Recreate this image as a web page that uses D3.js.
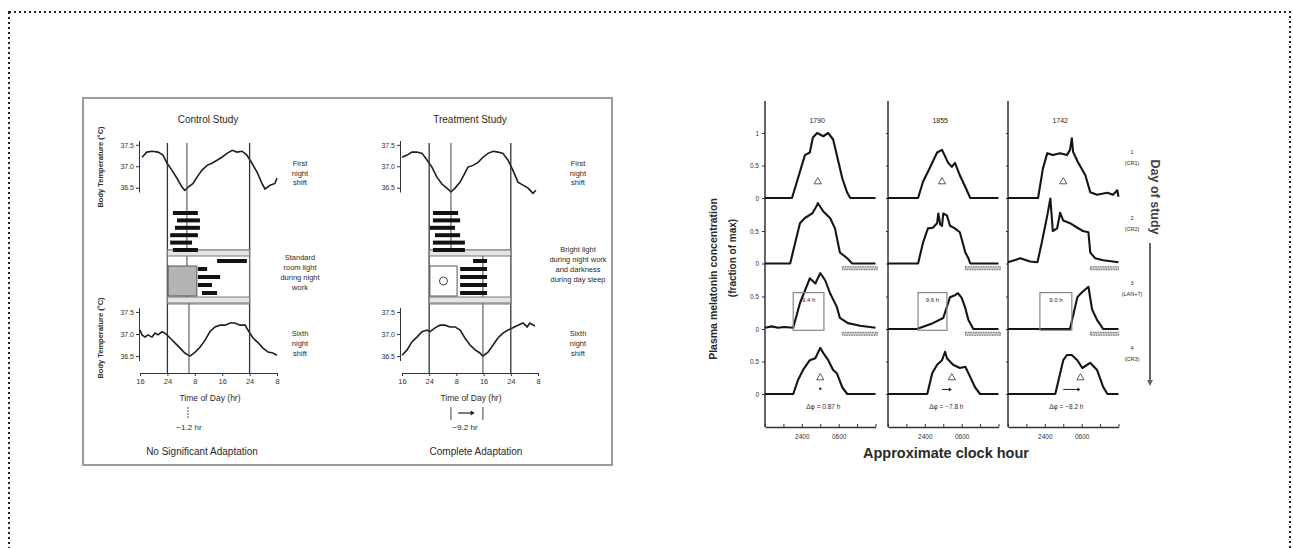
<!DOCTYPE html>
<html>
<head>
<meta charset="utf-8">
<script src="https://cdn.jsdelivr.net/npm/d3@7"></script>
<style>
body { margin: 0; background: #fff; }
svg { display: block; font-family: "Liberation Sans", Arial, sans-serif; }
</style>
</head>
<body>
<script>
// ---- left figure: body temperature (hour 16 .. 56 = 1600 day 1 .. 0800 day 3)
var studyHours = [16, 24, 32, 40, 48, 56];
var studyHourLabels = ["16", "24", "8", "16", "24", "8"];
var tempTicks = [36.5, 37.0, 37.5];

var controlFirstShift = [[16.6, 37.21], [18.0, 37.33], [19.5, 37.35], [21.3, 37.33], [22.7, 37.26], [23.9, 37.07],
  [25.3, 36.91], [26.8, 36.72], [28.3, 36.51], [29.1, 36.44], [30.0, 36.51], [31.5, 36.6], [32.6, 36.74],
  [34.1, 36.91], [35.6, 37.02], [37.0, 37.07], [38.5, 37.14], [39.9, 37.21], [41.4, 37.3], [42.9, 37.37],
  [44.3, 37.33], [45.8, 37.35], [47.2, 37.26], [48.7, 37.07], [50.2, 36.86], [51.6, 36.6], [52.5, 36.47],
  [54.0, 36.56], [55.4, 36.6], [56.0, 36.72]];
var controlSixthShift = [[16.0, 37.09], [16.6, 36.98], [17.5, 36.93], [18.3, 36.98], [19.5, 36.93], [20.4, 37.02],
  [21.3, 36.98], [22.4, 37.05], [23.3, 37.02], [24.8, 36.91], [26.2, 36.8], [27.7, 36.68], [29.1, 36.57],
  [30.6, 36.5], [32.1, 36.59], [33.5, 36.7], [35.0, 36.86], [36.4, 37.05], [37.9, 37.16], [39.4, 37.2],
  [40.8, 37.2], [42.3, 37.25], [43.7, 37.25], [45.2, 37.2], [46.7, 37.2], [47.5, 37.09], [49.0, 36.91],
  [50.5, 36.8], [51.9, 36.68], [53.4, 36.59], [54.8, 36.57], [56.0, 36.52]];
var treatFirstShift = [[16.0, 37.21], [17.5, 37.26], [18.9, 37.33], [20.4, 37.33], [21.9, 37.3], [23.4, 37.14],
  [24.8, 36.98], [26.3, 36.74], [27.8, 36.58], [29.2, 36.49], [30.4, 36.4], [31.6, 36.49], [33.1, 36.63],
  [34.5, 36.84], [35.4, 36.98], [36.9, 37.02], [38.4, 37.09], [39.8, 37.21], [41.3, 37.3], [42.8, 37.35],
  [44.2, 37.33], [45.7, 37.3], [47.2, 37.14], [48.6, 36.91], [50.1, 36.63], [51.6, 36.56], [53.1, 36.49],
  [54.5, 36.37], [55.4, 36.44]];
var treatSixthShift = [[16.0, 36.52], [17.5, 36.64], [18.9, 36.82], [20.4, 36.93], [21.9, 37.05], [23.4, 37.09],
  [24.2, 37.05], [25.7, 37.14], [27.2, 37.2], [28.6, 37.2], [30.1, 37.16], [31.6, 37.16], [33.1, 37.09],
  [34.5, 36.91], [36.0, 36.75], [37.5, 36.64], [38.9, 36.57], [39.8, 36.5], [41.3, 36.59], [42.8, 36.75],
  [44.2, 36.91], [45.7, 37.02], [47.2, 37.09], [48.6, 37.14], [50.1, 37.2], [51.6, 37.25], [52.8, 37.16],
  [53.6, 37.25], [55.1, 37.18]];
var controlMinHour = [29.7, 30.3];
var treatMinHour = [30.4, 39.8];

// sleep episodes (start hour, end hour)
var controlSleepBefore = [[25.6, 32.9], [26.8, 33.5], [26.2, 33.5], [24.8, 32.9], [24.8, 31.2], [25.6, 32.9]];
var controlSleepAfter = [[32.9, 35.6], [32.9, 39.4], [32.9, 37.0], [34.1, 38.5]];
var controlWorkBar = [38.5, 47.2];
var treatSleepBefore = [[25.1, 32.5], [25.1, 33.1], [24.2, 31.6], [25.7, 33.1], [25.1, 34.5], [25.1, 34.5]];
var treatSleepAfter = [[33.1, 41.0], [33.1, 41.0], [33.1, 41.0], [33.1, 41.0]];
var treatWorkBar = [36.9, 41.0];

// ---- right figure: plasma melatonin (clock hour 18 .. 36)
var subjects = ["1790", "1855", "1742"];
var dayNumbers = ["1", "2", "3", "4"];
var dayConditions = ["(CR1)", "(CR2)", "(LAN+7)", "(CR3)"];
var clockTicks = [18, 21, 24, 27, 30, 33, 36];
var clockLabelHours = [24, 30];
var clockLabels = ["2400", "0600"];

var mel1790 = [
  [[18, 0], [22.4, 0], [23.2, 0.25], [24.5, 0.66], [25.3, 0.7], [25.8, 0.93], [26.5, 1.0], [27.5, 0.95], [28.3, 1.0], [29.1, 0.9], [29.7, 0.66], [30.6, 0.3], [31.4, 0.08], [31.9, 0], [36, 0]],
  [[18, 0], [22.1, 0], [23.2, 0.43], [23.7, 0.62], [24.5, 0.7], [25.7, 0.77], [26.5, 0.9], [26.6, 0.93], [27.5, 0.8], [28.6, 0.7], [29.4, 0.54], [30.2, 0.17], [31.4, 0.08], [32.2, 0], [36, 0]],
  [[18, 0.02], [19.1, 0.04], [20.1, 0.02], [21.1, 0.03], [22.6, 0.02], [23.7, 0.4], [25.3, 0.78], [26.2, 0.7], [27.0, 0.86], [27.8, 0.75], [28.6, 0.55], [29.7, 0.34], [30.2, 0.17], [31.5, 0.09], [33.5, 0.05], [36, 0.02]],
  [[18, 0], [22.6, 0], [23.4, 0.22], [24.2, 0.37], [25.3, 0.52], [26.2, 0.55], [27.0, 0.71], [27.5, 0.63], [28.3, 0.52], [29.1, 0.37], [29.7, 0.32], [30.6, 0.1], [31.4, 0], [36, 0]]
];
var mel1855 = [
  [[18, 0], [22.9, 0], [23.7, 0.25], [24.9, 0.48], [26.0, 0.7], [26.8, 0.74], [27.8, 0.54], [28.4, 0.48], [28.9, 0.54], [29.7, 0.35], [30.6, 0.17], [31.4, 0], [36, 0]],
  [[18, 0], [22.9, 0], [23.7, 0.32], [24.5, 0.54], [25.3, 0.55], [26.0, 0.62], [26.2, 0.77], [26.5, 0.6], [26.8, 0.58], [27.0, 0.77], [27.6, 0.74], [28.1, 0.58], [28.9, 0.54], [29.7, 0.48], [30.6, 0.17], [31.1, 0.08], [31.4, 0], [36, 0]],
  [[18, 0], [22.7, 0], [25.3, 0.09], [27.0, 0.17], [27.8, 0.4], [28.1, 0.49], [28.9, 0.52], [29.4, 0.55], [30.0, 0.48], [30.6, 0.32], [31.1, 0.14], [31.9, 0], [36, 0]],
  [[18, 0], [24.4, 0], [25.2, 0.32], [26.0, 0.45], [26.8, 0.52], [27.3, 0.65], [27.6, 0.55], [28.6, 0.45], [29.7, 0.4], [30.6, 0.42], [31.4, 0.26], [32.2, 0.1], [33.0, 0], [36, 0]]
];
var mel1742 = [
  [[18, 0], [22.9, 0], [23.7, 0.46], [24.4, 0.69], [25.3, 0.66], [26.5, 0.69], [27.6, 0.66], [28.1, 0.74], [28.4, 0.92], [28.6, 0.71], [29.4, 0.55], [30.6, 0.35], [31.4, 0.09], [32.5, 0.05], [34.2, 0.08], [35.1, 0.05], [35.8, 0.12], [36, 0.02]],
  [[18, 0.02], [20.0, 0.08], [21.6, 0.03], [22.8, 0.02], [23.5, 0.32], [24.4, 0.74], [24.9, 1.0], [25.3, 0.5], [26.0, 0.54], [26.5, 0.78], [27.0, 0.66], [28.1, 0.62], [29.3, 0.55], [30.2, 0.5], [31.1, 0.48], [31.4, 0.17], [32.2, 0.08], [33.5, 0.05], [36, 0.02]],
  [[18, 0], [28.1, 0], [29.3, 0.49], [30.1, 0.57], [31.1, 0.65], [31.7, 0.3], [32.5, 0.14], [33.5, 0], [36, 0]],
  [[18, 0], [25.7, 0], [27.0, 0.52], [27.6, 0.6], [28.4, 0.6], [29.3, 0.52], [30.1, 0.4], [30.9, 0.45], [31.4, 0.48], [32.5, 0.37], [33.5, 0.11], [34.2, 0], [36, 0]]
];
var melCurves = [mel1790, mel1855, mel1742];
var phaseCR1 = [26.6, 26.8, 27.0];
var phaseCR3 = [27.0, 28.4, 29.8];
var phaseShiftText = ["Δφ = 0.87 h", "Δφ = −7.8 h", "Δφ = −8.2 h"];
var lightBox = [[22.6, 27.6], [22.9, 27.6], [23.2, 28.4]];
var lightBoxText = ["9.4 h", "9.6 h", "9.0 h"];
var sleepBar = [[30.6, 36.3], [30.6, 36.3], [31.4, 36.0]];

var svg = d3.select("body").append("svg").
attr("width", 1293).
attr("height", 548);

// dotted page frame
svg.append("rect").
attr("x", 9).attr("y", 12).
attr("width", 1281).attr("height", 600).
attr("fill", "none").
attr("stroke", "#222").
attr("stroke-width", 2).
attr("stroke-dasharray", "2,3");

// scanned figure frame
svg.append("rect").
attr("x", 83).attr("y", 98).
attr("width", 529).attr("height", 367).
attr("fill", "none").
attr("stroke", "#9c9c9c").
attr("stroke-width", 2);

function txt(g, x, y, s, size, opt) {
  opt = opt || {};
  return g.append("text").
  attr("x", x).attr("y", y).
  attr("text-anchor", opt.anchor || "middle").
  attr("font-size", size).
  attr("font-weight", opt.bold ? "bold" : "normal").
  attr("fill", opt.fill || "#2a2a2a").
  text(s);
}

function styleAxis(a, size) {
  a.selectAll("path, line").attr("stroke", "#333");
  a.selectAll("text").attr("font-size", size).attr("fill", "#333").
  attr("font-family", "Liberation Sans, Arial, sans-serif");
}

function drawStudy(s) {
  var g = svg.append("g");
  var x = d3.scaleLinear().domain([16, 56]).range(s.xr);
  var yTop = d3.scaleLinear().domain([36.4, 37.6]).range([192, 140.5]);
  var yBot = d3.scaleLinear().domain([36.4, 37.6]).range([360.5, 307.5]);

  txt(g, s.titleX, 123, s.title, 10);

  [yTop, yBot].forEach(function (y, i) {
    var a = g.append("g").
    attr("transform", "translate(" + s.axisX + ",0)").
    call(d3.axisLeft(y).tickValues(tempTicks).tickSize(3).tickSizeOuter(0).tickPadding(2).tickFormat(d3.format(".1f")));
    styleAxis(a, 7);
    var curve = i == 0 ? s.first : s.sixth;
    g.append("path").
    datum(curve).
    attr("fill", "none").
    attr("stroke", "#1e1e1e").
    attr("stroke-width", 1.6).
    attr("d", d3.line().x(function (d) {return x(d[0]);}).y(function (d) {return y(d[1]);}));
  });

  var xa = g.append("g").
  attr("transform", "translate(0,373)").
  call(d3.axisBottom(x).tickValues(studyHours).tickSize(3).tickSizeOuter(0).tickPadding(3).
  tickFormat(function (d, i) {return studyHourLabels[i];}));
  styleAxis(xa, 7.5);

  // shift boundaries (midnight) and temperature minima
  [24, 48].forEach(function (h) {
    g.append("line").attr("x1", x(h)).attr("x2", x(h)).attr("y1", 143).attr("y2", 373).
    attr("stroke", "#333").attr("stroke-width", 1.3);
  });
  g.append("line").attr("x1", x(s.mins[0])).attr("x2", x(s.mins[0])).attr("y1", 143).attr("y2", s.minCut).
  attr("stroke", "#444").attr("stroke-width", 1);
  g.append("line").attr("x1", x(s.mins[1])).attr("x2", x(s.mins[1])).attr("y1", s.minCut).attr("y2", 373).
  attr("stroke", "#444").attr("stroke-width", 1);

  // schedule block
  g.append("rect").attr("x", x(24)).attr("y", 250).attr("width", x(48) - x(24)).attr("height", 54).
  attr("fill", "none").attr("stroke", "#777").attr("stroke-width", 1);
  g.append("rect").attr("x", x(24)).attr("y", 250).attr("width", x(48) - x(24)).attr("height", 6).
  attr("fill", "#e4e4e4").attr("stroke", "#777").attr("stroke-width", 1);
  g.append("rect").attr("x", x(24)).attr("y", 297).attr("width", x(48) - x(24)).attr("height", 6).
  attr("fill", "#e4e4e4").attr("stroke", "#777").attr("stroke-width", 1);

  g.selectAll(".sb").data(s.before).enter().append("rect").
  attr("x", function (d) {return x(d[0]);}).
  attr("y", function (d, i) {return 211 + i * 7.4;}).
  attr("width", function (d) {return x(d[1]) - x(d[0]);}).
  attr("height", 4).
  attr("fill", "#111");

  g.selectAll(".sa").data(s.after).enter().append("rect").
  attr("x", function (d) {return x(d[0]);}).
  attr("y", function (d, i) {return 267 + i * 8;}).
  attr("width", function (d) {return x(d[1]) - x(d[0]);}).
  attr("height", 4).
  attr("fill", "#111");

  g.append("rect").attr("x", x(s.work[0])).attr("y", 259).attr("width", x(s.work[1]) - x(s.work[0])).attr("height", 4).
  attr("fill", "#111");

  g.append("rect").attr("x", x(24.2)).attr("y", 266).attr("width", x(s.boxEnd) - x(24.2)).attr("height", 30).
  attr("fill", s.stipple ? "#b4b4b4" : "#fff").attr("stroke", "#555").attr("stroke-width", 1);
  if (!s.stipple) {
    g.append("circle").attr("cx", (x(24.2) + x(s.boxEnd)) / 2).attr("cy", 281).attr("r", 4).
    attr("fill", "none").attr("stroke", "#444").attr("stroke-width", 1);
  }

  // right-hand notes
  s.firstText.forEach(function (t, i) {txt(g, s.noteX, 166 + i * 9.5, t, 7.5);});
  s.lightText.forEach(function (t, i) {txt(g, s.noteX, s.lightY + i * 10, t, 7.5);});
  s.sixthText.forEach(function (t, i) {txt(g, s.noteX, 336 + i * 10, t, 7.5);});

  txt(g, s.axisTitleX, 401, "Time of Day (hr)", 8.5);
  txt(g, s.shiftX, 430, s.shift, 8);
  txt(g, s.bottomX, 455, s.bottom, 10);

  if (s.ylabel) {
    [167, 338].forEach(function (cy) {
      txt(g, 0, 0, "Body Temperature (°C)", 7.5, {bold: true}).
      attr("transform", "translate(103," + cy + ") rotate(-90)");
    });
  }
  return x;
}

var xc = drawStudy({
  title: "Control Study", titleX: 208, xr: [140, 277], axisX: 139,
  first: controlFirstShift, sixth: controlSixthShift, mins: controlMinHour, minCut: 297,
  before: controlSleepBefore, after: controlSleepAfter, work: controlWorkBar, boxEnd: 32.6, stipple: true,
  noteX: 300, firstText: ["First", "night", "shift"],
  lightText: ["Standard", "room light", "during night", "work"], lightY: 260,
  sixthText: ["Sixth", "night", "shift"],
  axisTitleX: 210, shiftX: 189, shift: "−1.2 hr", bottomX: 202, bottom: "No Significant Adaptation", ylabel: true
});
// marker of phase shift
svg.append("line").attr("x1", xc(30)).attr("x2", xc(30)).attr("y1", 407).attr("y2", 419).
attr("stroke", "#555").attr("stroke-width", 1).attr("stroke-dasharray", "2,1");

var xt = drawStudy({
  title: "Treatment Study", titleX: 470, xr: [402, 538], axisX: 400,
  first: treatFirstShift, sixth: treatSixthShift, mins: treatMinHour, minCut: 252,
  before: treatSleepBefore, after: treatSleepAfter, work: treatWorkBar, boxEnd: 32.2, stipple: false,
  noteX: 578, firstText: ["First", "night", "shift"],
  lightText: ["Bright light", "during night work", "and darkness", "during day sleep"], lightY: 252,
  sixthText: ["Sixth", "night", "shift"],
  axisTitleX: 471, shiftX: 465, shift: "−9.2 hr", bottomX: 476, bottom: "Complete Adaptation", ylabel: false
});
treatMinHour.forEach(function (h) {
  svg.append("line").attr("x1", xt(h)).attr("x2", xt(h)).attr("y1", 407).attr("y2", 420).
  attr("stroke", "#444").attr("stroke-width", 1);
});
svg.append("line").attr("x1", xt(32.5)).attr("x2", xt(36.5)).attr("y1", 413).attr("y2", 413).
attr("stroke", "#222").attr("stroke-width", 1.2);
svg.append("path").attr("d", "M" + (xt(36.5) + 3) + ",413 l-4,-2.5 l0,5 z").attr("fill", "#222");

// ---- melatonin panels
var colLeft = [765, 888, 1008];
var rowBase = [198, 263.5, 329, 394];

var mg = svg.append("g");
colLeft.forEach(function (left, c) {
  var x = d3.scaleLinear().domain([18, 36]).range([left, left + 110.5]);

  mg.append("line").attr("x1", left).attr("x2", left).attr("y1", 101).attr("y2", 427).
  attr("stroke", "#333").attr("stroke-width", 1.5);

  var xa = mg.append("g").
  attr("transform", "translate(0,427)").
  call(d3.axisBottom(x).tickValues(clockTicks).tickSizeInner(-3).tickSizeOuter(0).tickPadding(7).
  tickFormat(function (d) {var k = clockLabelHours.indexOf(d);return k < 0 ? "" : clockLabels[k];}));
  styleAxis(xa, 6.5);
  xa.select(".domain").attr("stroke-width", 1.5);

  txt(mg, x(26.5), 123, subjects[c], 7);

  rowBase.forEach(function (base, r) {
    var y = d3.scaleLinear().domain([0, 1]).range([base, base - 65]);
    var ticks = r == 0 ? [0, 0.5, 1] : [0, 0.5];
    var ya = mg.append("g").
    attr("transform", "translate(" + left + ",0)").
    call(d3.axisLeft(y).tickValues(ticks).tickSize(c == 0 ? 3 : 2).tickPadding(3).
    tickFormat(function (d) {return c == 0 ? d3.format("")(d) : "";}));
    ya.select(".domain").remove();
    styleAxis(ya, 6.5);

    mg.append("path").
    datum(melCurves[c][r]).
    attr("fill", "none").
    attr("stroke", "#151515").
    attr("stroke-width", 2.1).
    attr("stroke-linejoin", "round").
    attr("d", d3.line().x(function (d) {return x(d[0]);}).y(function (d) {return y(d[1]);}));

    if (r == 1 || r == 2) {
      mg.append("rect").
      attr("x", x(sleepBar[c][0])).attr("y", y(-0.05)).
      attr("width", x(sleepBar[c][1]) - x(sleepBar[c][0])).attr("height", 3).
      attr("fill", "#ccc").attr("stroke", "#444").attr("stroke-width", 0.8).
      attr("stroke-dasharray", "1.5,1");
    }
    if (r == 2) {
      mg.append("rect").
      attr("x", x(lightBox[c][0])).attr("y", y(0.56)).
      attr("width", x(lightBox[c][1]) - x(lightBox[c][0])).attr("height", y(-0.02) - y(0.56)).
      attr("fill", "none").attr("stroke", "#888").attr("stroke-width", 1.2);
      txt(mg, (x(lightBox[c][0]) + x(lightBox[c][1])) / 2, y(0.42), lightBoxText[c], 6);
    }
    if (r == 0 || r == 3) {
      var ph = r == 0 ? phaseCR1[c] : phaseCR3[c];
      mg.append("path").
      attr("transform", "translate(" + x(ph) + "," + y(0.25) + ")").
      attr("d", d3.symbol(d3.symbolTriangle).size(22)()).
      attr("fill", "#fff").attr("stroke", "#333").attr("stroke-width", 0.8);
    }
    if (r == 3) {
      if (c == 0) {
        mg.append("circle").attr("cx", x(phaseCR3[c])).attr("cy", y(0.08)).attr("r", 1.2).attr("fill", "#222");
      } else {
        mg.append("line").attr("x1", x(phaseCR1[c])).attr("x2", x(phaseCR3[c]) - 2).
        attr("y1", y(0.07)).attr("y2", y(0.07)).attr("stroke", "#222").attr("stroke-width", 1);
        mg.append("path").attr("d", "M" + x(phaseCR3[c]) + "," + y(0.07) + " l-3,-2 l0,4 z").attr("fill", "#222");
      }
      txt(mg, x(27.5), base + 15, phaseShiftText[c], 6.5);
    }
  });
});

// row labels
rowBase.forEach(function (base, r) {
  txt(mg, 1132, base - 44, dayNumbers[r], 5.5);
  txt(mg, 1132, base - 33, dayConditions[r], 5.5);
});

txt(mg, 0, 0, "Plasma melatonin concentration", 10.5, {bold: true}).
attr("transform", "translate(717,279) rotate(-90)");
txt(mg, 0, 0, "(fraction of max)", 10, {bold: true}).
attr("transform", "translate(736,258) rotate(-90)");
txt(mg, 946, 458, "Approximate clock hour", 14.5, {bold: true});

txt(mg, 0, 0, "Day of study", 12.5, {bold: true, fill: "#444"}).
attr("transform", "translate(1151,197) rotate(90)");
mg.append("line").attr("x1", 1150).attr("x2", 1150).attr("y1", 243).attr("y2", 381).
attr("stroke", "#666").attr("stroke-width", 2);
mg.append("path").attr("d", "M1150,386 l-3,-6 l6,0 z").attr("fill", "#666");
</script>
</body>
</html>
